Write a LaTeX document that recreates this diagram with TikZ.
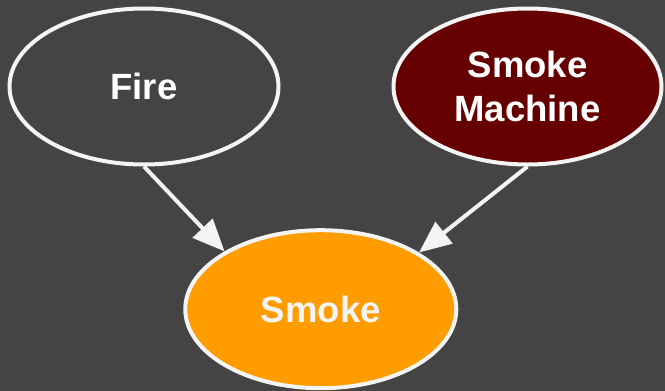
\documentclass[tikz,border=0pt]{standalone}
\usepackage{fontspec}
\setmainfont{Liberation Sans}
\usetikzlibrary{arrows.meta,shapes.geometric}
\definecolor{bg}{HTML}{444444}
\definecolor{edgecol}{HTML}{F4F4F4}
\definecolor{darkred}{HTML}{660000}
\definecolor{amber}{HTML}{FF9C00}
\begin{document}
\begin{tikzpicture}[x=1pt,y=-1pt,
  varnode/.style={ellipse, draw=edgecol, line width=4pt, inner sep=0pt,
    minimum width=269pt, minimum height=156pt, text=white,
    font=\bfseries\fontsize{36.5}{44}\selectfont, align=center},
  link/.style={draw=edgecol, line width=4pt,
    -{Triangle[length=32pt,width=27pt,fill=edgecol]}}]
  \fill[bg] (0,0) rectangle (665,391);
  \useasboundingbox (0,0) rectangle (665,391);
  \node[varnode] (fire) at (144,86.5) {Fire};
  \node[varnode, fill=darkred, minimum width=268pt] (machine) at (527.5,86.5) {Smoke\\Machine};
  \node[varnode, fill=amber, text=edgecol, minimum width=271pt, minimum height=158pt] (smoke) at (320.8,309.2) {Smoke};
  \draw[link] (fire.south) -- (smoke.149);
  \draw[link] (machine.south) -- (smoke.30);
\end{tikzpicture}
\end{document}
